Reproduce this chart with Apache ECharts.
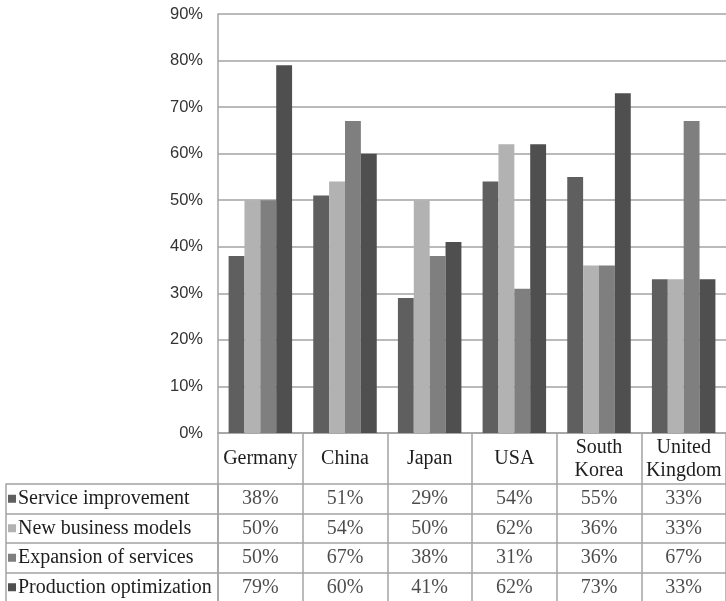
<!DOCTYPE html>
<html><head><meta charset="utf-8">
<script src="https://cdn.jsdelivr.net/npm/echarts@6/dist/echarts.min.js"></script>
<style>html,body{margin:0;padding:0;background:#fff}#c{width:726px;height:601px}</style>
</head><body><div id="c"></div>
<script>
// Countries (x categories) and the four survey answers, in percent
const countries = ['Germany', 'China', 'Japan', 'USA', 'South\nKorea', 'United\nKingdom'];
const seriesNames = ['Service improvement', 'New business models', 'Expansion of services', 'Production optimization'];
const serviceImprovement = [38, 51, 29, 54, 55, 33];
const newBusinessModels = [50, 54, 50, 62, 36, 33];
const expansionOfServices = [50, 67, 38, 31, 36, 67];
const productionOptimization = [79, 60, 41, 62, 73, 33];
const yMin = 0, yMax = 90, yStep = 10;

const values = [serviceImprovement, newBusinessModels, expansionOfServices, productionOptimization];
const colors = ['#5f5f5f', '#b2b2b2', '#7f7f7f', '#4f4f4f'];
const lineColor = '#a3a3a3';
const serif = '"Liberation Serif", "Times New Roman", serif';
const sans = '"Liberation Sans", Arial, sans-serif';

// legend keys inside the data-table row headers
const rich = {};
colors.forEach((c, i) => { rich['k' + i] = { width: 8, height: 8, backgroundColor: c }; });
rich.t = { fontFamily: serif, fontSize: 20, color: '#1e1e1e', padding: [0, 0, 0, 2] };

const barSeries = values.map((v, i) => ({
  name: seriesNames[i], type: 'bar', xAxisIndex: 0, yAxisIndex: 0,
  data: v, barGap: '0%', barCategoryGap: '25%',
  itemStyle: { color: colors[i] }, silent: true
}));

// data table: one invisible point per cell, shown only through its label
const cellData = [];
values.forEach((v, r) => v.forEach((val, c) => cellData.push([c, r, val])));
const tableSeries = {
  type: 'scatter', xAxisIndex: 1, yAxisIndex: 1, symbolSize: 1, silent: true,
  itemStyle: { color: 'rgba(0,0,0,0)' },
  data: cellData,
  label: { show: true, position: 'inside', formatter: p => p.value[2] + '%',
           fontFamily: serif, fontSize: 20, color: '#1e1e1e' }
};

const chart = echarts.init(document.getElementById('c'), null, { renderer: 'canvas' });
chart.setOption({
  animation: false,
  backgroundColor: '#fff',
  grid: [
    { left: 218, right: 0, top: 14, bottom: 168, outerBoundsMode: 'none' },
    { left: 218, right: 0, top: 484, height: 118, outerBoundsMode: 'none' }
  ],
  xAxis: [
    { type: 'category', gridIndex: 0, data: countries,
      axisLine: { show: true, lineStyle: { color: lineColor, width: 1.5 } },
      axisTick: { show: true, length: 51, interval: 0, alignWithLabel: false, lineStyle: { color: lineColor, width: 1.5 } },
      axisLabel: { interval: 0, fontFamily: serif, fontSize: 20, lineHeight: 23, color: '#1e1e1e',
                   verticalAlign: 'middle', margin: 26 },
      splitLine: { show: false } },
    { type: 'category', gridIndex: 1, data: countries,
      axisLine: { show: false }, axisTick: { show: false }, axisLabel: { show: false },
      splitLine: { show: true, interval: 0, lineStyle: { color: lineColor, width: 1.5 } } }
  ],
  yAxis: [
    { type: 'value', gridIndex: 0, min: yMin, max: yMax, interval: yStep,
      axisLine: { show: true, lineStyle: { color: lineColor, width: 1.5 } },
      axisTick: { show: false },
      axisLabel: { formatter: '{value}%', fontFamily: sans, fontSize: 16.5, color: '#333', margin: 15 },
      splitLine: { show: true, lineStyle: { color: lineColor, width: 1.5 } } },
    { type: 'category', gridIndex: 1, data: seriesNames, inverse: true,
      axisLine: { show: true, lineStyle: { color: lineColor, width: 1.5 } },
      axisTick: { show: true, length: 212, interval: 0, alignWithLabel: false, lineStyle: { color: lineColor, width: 1.5 } },
      axisLabel: { interval: 0, align: 'left', margin: 210,
                   formatter: (v, i) => '{k' + i + '|}{t|' + v + '}', rich: rich },
      splitLine: { show: true, interval: 0, lineStyle: { color: lineColor, width: 1.5 } } },
    { type: 'category', gridIndex: 1, data: seriesNames, inverse: true, position: 'left', offset: 212,
      axisLine: { show: true, lineStyle: { color: lineColor, width: 1.5 } },
      axisTick: { show: false }, axisLabel: { show: false }, splitLine: { show: false } }
  ],
  series: barSeries.concat([tableSeries])
});
</script>
</body></html>
